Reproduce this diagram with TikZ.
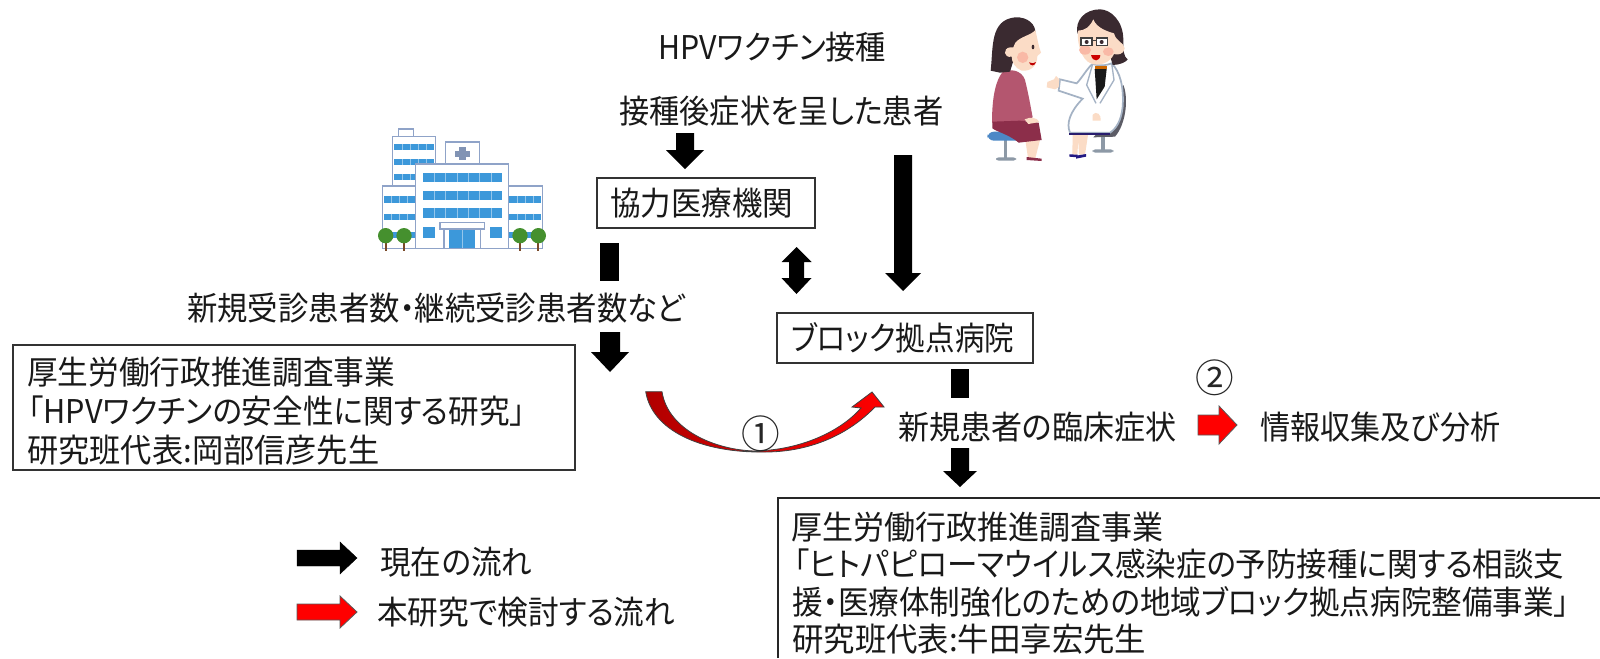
\documentclass[tikz,border=0pt]{standalone}
\usepackage{graphicx}
\usepackage{fontspec}
\newfontfamily\jp{Noto Sans CJK JP}[RawFeature=+palt]
\newlength{\pxu}\setlength{\pxu}{0.75pt}
\definecolor{frameblue}{HTML}{8FA3C8}
\definecolor{winblue}{HTML}{3C98DA}
\definecolor{leaf}{HTML}{45902E}
\definecolor{trunk}{HTML}{7A4A2A}
\definecolor{hairdark}{HTML}{3A2A30}
\definecolor{skin}{HTML}{FBDCC6}
\definecolor{cheek}{HTML}{F9B9A6}
\definecolor{knit}{HTML}{B4566F}
\definecolor{skirt}{HTML}{8C2E4A}
\definecolor{stool}{HTML}{4C88C6}
\definecolor{steel}{HTML}{8D99A6}
\definecolor{seatgrey}{HTML}{5C5C66}
\definecolor{coatline}{HTML}{A4B2C4}
\definecolor{darkred}{HTML}{B00000}
% width-fitted line of text, keeping its natural height
\newcommand{\fitw}[2]{\resizebox{#1\pxu}{\height}{#2}}
% vertical block arrow: x, top, head start, tip, half shaft, half head
\newcommand{\blockdown}[6]{\fill[black] (#1-#5,#2) -- (#1+#5,#2) -- (#1+#5,#3) -- (#1+#6,#3) -- (#1,#4) -- (#1-#6,#3) -- (#1-#5,#3) -- cycle;}
% horizontal block arrow: style, left, head start, tip, mid y, half shaft, half head
\newcommand{\blockright}[7]{\draw[#1] (#2,#5-#6) -- (#3,#5-#6) -- (#3,#5-#7) -- (#4,#5) -- (#3,#5+#7) -- (#3,#5+#6) -- (#2,#5+#6) -- cycle;}
\tikzset{
  label text/.style={inner sep=0pt,anchor=west,font=\jp\fontsize{24.5pt}{28pt}\selectfont,text=black!90},
  number text/.style={inner sep=0pt,anchor=center,font=\jp\fontsize{29pt}{30pt}\selectfont,text=black!85},
  frame box/.style={draw=black!80,line width=0.9pt,fill=white},
  red block/.style={fill=red,draw=black!65,line width=0.6pt},
  black block/.style={fill=black,draw=black,line width=0.3pt},
  bldg/.style={fill=white,draw=frameblue,line width=1.2pt},
  pane/.style={fill=winblue},
  mullion/.style={draw=winblue!55!white,line width=0.5pt},
  tree top/.style={fill=leaf},
  tree stem/.style={draw=trunk,line width=1.6pt},
}
\begin{document}
\begin{tikzpicture}[x=0.75pt,y=-0.75pt]
\useasboundingbox (0,0) rectangle (1600,658);
\fill[white] (0,0) rectangle (1600,658);

% ---- hospital building ----
\begin{scope}[shift={(370,120)}]
\begin{scope}[x=0.25pt,y=-0.25pt]
  \draw[bldg] (85,27) rectangle (130,50);
  \draw[bldg] (68,50) rectangle (197,200);
  \foreach \yy in {72,118,163} {
    \fill[pane] (72,\yy) rectangle (193,\yy+18);
    \foreach \xx in {96,120,144,168}
      \draw[mullion] (\xx,\yy) -- (\xx,\yy+18);
  }
  \draw[bldg] (226,66) rectangle (328,135);
  \fill[frameblue!90!black] (268,82) rectangle (288,120);
  \fill[frameblue!90!black] (256,92) rectangle (300,110);
  \draw[bldg] (37,198) rectangle (137,385);
  \draw[bldg] (416,198) rectangle (518,385);
  \foreach \yy in {228,281,335} {
    \fill[pane] (41,\yy) rectangle (135,\yy+20);
    \fill[pane] (418,\yy) rectangle (514,\yy+20);
    \foreach \xx in {64,88,112,442,466,490}
      \draw[mullion] (\xx,\yy) -- (\xx,\yy+20);
  }
  \draw[bldg] (137,132) rectangle (416,385);
  \foreach \yy in {158,212,265}
    \fill[pane] (158,\yy) rectangle (397,\yy+28);
  \foreach \xx in {193,227,261,295,329,363}
    \draw[mullion] (\xx,158) -- (\xx,186) (\xx,212) -- (\xx,240) (\xx,265) -- (\xx,293);
  \fill[pane] (158,320) rectangle (194,353);
  \fill[pane] (360,320) rectangle (396,353);
  \draw[bldg] (222,327) rectangle (332,385);
  \fill[pane] (238,327) rectangle (316,385);
  \draw[mullion] (277,327) -- (277,385);
  \draw[bldg] (210,308) rectangle (344,327);
  \foreach \xx in {47,102,450,505} {
    \draw[tree stem] (\xx,350) -- (\xx,392);
    \fill[tree top] (\xx,347) circle[radius=23];
  }
\end{scope}
\end{scope}

% ---- patient and doctor ----
\begin{scope}[shift={(960,0)}]
\begin{scope}[x=0.25pt,y=-0.25pt]
  % stool
  \fill[steel] (131,420) rectangle (142,475);
  \fill[steel,rounded corners=2pt] (108,472) rectangle (168,482);
  \fill[stool,rounded corners=5pt] (82,395) rectangle (185,422);
  % patient legs and shoes
  \fill[skin] (196,420) -- (240,420) -- (226,474) -- (204,474) -- cycle;
  \fill[skirt] (200,471) -- (245,476) -- (245,483) -- (200,480) -- cycle;
  % patient torso and skirt
  \fill[knit] (128,216) .. controls (150,205) and (185,210) .. (195,240) .. controls (205,280) and (212,320) .. (218,352) -- (180,372) -- (96,368) .. controls (96,320) and (100,250) .. (128,216) -- cycle;
  \fill[skirt] (97,365) -- (180,362) -- (236,368) -- (245,420) -- (176,428) .. controls (150,405) and (110,395) .. (97,385) -- cycle;
  \fill[skin] (194,358) .. controls (210,350) and (232,352) .. (238,366) -- (205,372) -- cycle;
  % patient head
  \fill[hairdark] (92,212) .. controls (100,140) and (90,60) .. (165,52) .. controls (205,50) and (228,75) .. (226,100) -- (170,150) -- (150,215) -- (120,218) -- cycle;
  \fill[skin] (166,128) .. controls (180,110) and (215,105) .. (226,90) .. controls (232,115) and (236,140) .. (243,158) -- (232,168) .. controls (232,195) and (215,215) .. (185,212) .. controls (165,205) and (155,185) .. (155,170) .. controls (130,175) and (128,145) .. (150,142) -- (160,142) -- cycle;
  \fill[cheek] (188,172) circle[radius=17];
  \fill[hairdark] (219,141) ellipse[x radius=4,y radius=7];
  \fill[red!75!black] (207,187) .. controls (215,192) and (222,190) .. (228,186) .. controls (224,199) and (212,200) .. (207,187) -- cycle;
  % chair
  \fill[seatgrey] (490,255) .. controls (505,290) and (500,370) .. (465,410) -- (400,412) -- (440,370) -- cycle;
  \fill[steel] (424,410) rectangle (435,450);
  \fill[steel,rounded corners=2pt] (398,448) rectangle (460,458);
  % doctor legs and shoes
  \fill[skin] (338,405) -- (384,405) -- (375,464) -- (357,464) -- (355,420) -- (352,464) -- (337,464) -- cycle;
  \fill[hairdark!60!blue] (328,463) -- (353,464) -- (353,472) -- (328,470) -- cycle;
  \fill[hairdark!60!blue] (348,467) -- (378,462) -- (378,470) -- (348,476) -- cycle;
  % doctor coat
  \draw[fill=white,draw=coatline,line width=1.3pt] (398,192) .. controls (425,200) and (440,195) .. (455,190) .. controls (480,215) and (492,260) .. (488,320) .. controls (484,360) and (470,385) .. (450,398) -- (330,398) .. controls (318,370) and (330,335) .. (368,296) -- (296,272) -- (300,238) -- (350,250) .. controls (365,235) and (385,200) .. (398,192) -- cycle;
  \fill[black!90] (404,207) -- (440,207) -- (434,260) -- (410,298) -- cycle;
  \fill[orange!80!black] (404,198) -- (440,198) -- (440,207) -- (404,207) -- cycle;
  \draw[coatline,line width=1pt] (398,192) -- (380,255) -- (408,310) (455,190) -- (462,240) -- (420,310);
  \fill[hairdark!70!blue] (328,398) -- (450,398) -- (450,406) -- (328,406) -- cycle;
  \fill[skin] (398,345) .. controls (410,330) and (425,345) .. (422,362) -- (398,362) -- cycle;
  \fill[skin] (298,238) -- (288,228) -- (282,238) -- (262,246) -- (260,262) -- (285,268) -- (296,262) -- cycle;
  % doctor head
  \fill[hairdark] (458,195) .. controls (480,195) and (500,185) .. (503,178) .. controls (490,170) and (490,150) .. (490,120) .. controls (490,60) and (450,28) .. (420,28) .. controls (375,28) and (345,60) .. (352,100) -- (440,130) -- cycle;
  \fill[skin] (354,92) .. controls (375,92) and (390,80) .. (400,58) .. controls (410,85) and (445,95) .. (462,100) .. controls (468,125) and (490,125) .. (494,145) .. controls (492,165) and (470,165) .. (462,162) .. controls (450,190) and (415,200) .. (392,190) .. controls (365,180) and (350,130) .. (354,92) -- cycle;
  \fill[cheek] (375,150) ellipse[x radius=18,y radius=14];
  \fill[cheek] (445,155) ellipse[x radius=16,y radius=13];
  \draw[fill=white,draw=black!75,line width=0.8pt] (363,114) rectangle (396,137);
  \draw[fill=white,draw=black!75,line width=0.8pt] (410,114) rectangle (442,137);
  \draw[black!75,line width=0.8pt] (396,122) -- (410,122);
  \fill[hairdark] (380,126) circle[radius=6];
  \fill[hairdark] (425,126) circle[radius=6];
  \fill[red!80!black] (393,165) -- (421,165) .. controls (420,185) and (398,188) .. (393,165) -- cycle;
\end{scope}
\end{scope}

% ---- boxes ----
\draw[frame box] (597,178) rectangle (815,228);
\draw[frame box] (777,313) rectangle (1033,363);
\draw[frame box] (13,345) rectangle (575,470);
\draw[draw=black!85,line width=0.9pt] (778,658) -- (778,498) -- (1600,498);

% ---- labels ----
\node[label text] (vacc) at (658,47) {\fitw{228}{HPVワクチン接種}};
\node[label text] (symp) at (619,111) {\fitw{324}{接種後症状を呈した患者}};
\node[label text] (coop) at (610,203) {\fitw{183}{協力医療機関}};
\node[label text] (count) at (187,308) {\fitw{498}{新規受診患者数・継続受診患者数など}};
\node[label text] (okabe1) at (27,372) {\fitw{368}{厚生労働行政推進調査事業}};
\node[label text] (okabe2) at (28,411) {\fitw{497}{「HPVワクチンの安全性に関する研究」}};
\node[label text] (okabe3) at (27,450) {\fitw{352}{研究班代表:岡部信彦先生}};
\node[label text] (block) at (791,338) {\fitw{223}{ブロック拠点病院}};
\node[label text] (newpt) at (898,427) {\fitw{278}{新規患者の臨床症状}};
\node[label text] (info) at (1260,427) {\fitw{240}{情報収集及び分析}};
\node[label text] (ushi1) at (791,527) {\fitw{372}{厚生労働行政推進調査事業}};
\node[label text] (ushi2) at (794,564) {\fitw{770}{「ヒトパピローマウイルス感染症の予防接種に関する相談支}};
\node[label text] (ushi3) at (792,602) {\fitw{777}{援・医療体制強化のための地域ブロック拠点病院整備事業」}};
\node[label text] (ushi4) at (792,639) {\fitw{354}{研究班代表:牛田享宏先生}};
\node[label text] (legA) at (380,562) {\fitw{152}{現在の流れ}};
\node[label text] (legB) at (377,612) {\fitw{298}{本研究で検討する流れ}};

% ---- black block arrows ----
\blockdown{685}{133}{150}{169}{9}{19}
\blockdown{903}{155}{273}{291}{9}{18}
\blockdown{610}{332}{352}{372}{10}{19}
\blockdown{960}{448}{471}{487}{9}{17}
\fill[black] (600,243) rectangle (619,281);
\fill[black] (951,369) rectangle (969,398);
\fill[black] (796.5,247) -- (811.5,262) -- (804,262) -- (804,278) -- (811.5,278) -- (796.5,294) -- (781.5,278) -- (789,278) -- (789,262) -- (781.5,262) -- cycle;

% ---- curved red arrow ----
\draw[draw=black!75,line width=0.6pt,left color=darkred,right color=red]
  (645.7,391.7) -- (662,391.7)
  .. controls (668,430) and (715,450) .. (755,451)
  .. controls (800,450) and (840,432) .. (861,408)
  -- (852,407) -- (872,392) -- (884,407) -- (875,407)
  .. controls (845,438) and (805,452) .. (765,452)
  .. controls (700,453) and (652,430) .. (645.7,391.7) -- cycle;
\node[number text] (one) at (761,434) {①};
\node[number text] (two) at (1215,378) {②};

% ---- red and legend arrows ----
\blockright{red block}{1198}{1219}{1237}{425}{10}{19}
\blockright{black block}{297}{340}{357}{558}{8}{16}
\blockright{red block}{297}{340}{357}{612}{8}{16}
\end{tikzpicture}
\end{document}
